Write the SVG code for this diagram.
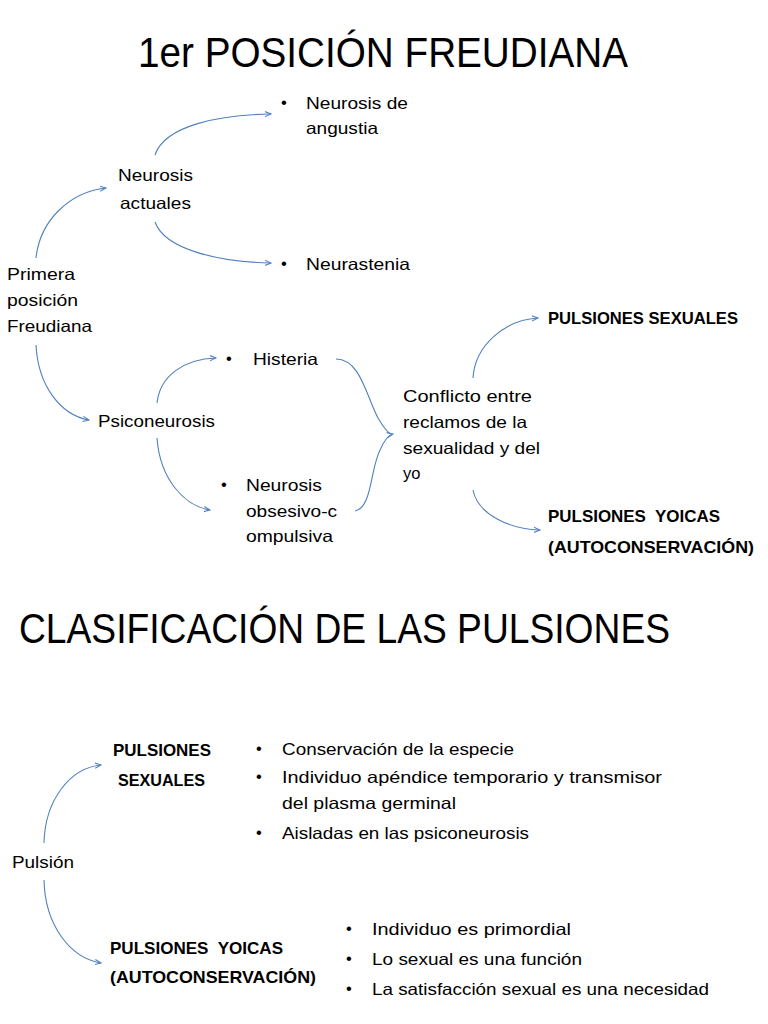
<svg xmlns="http://www.w3.org/2000/svg" width="768" height="1024" viewBox="0 0 768 1024">
<style>
text{font-family:"Liberation Sans",Arial,sans-serif;fill:#000;}
.t{font-size:16.5px;}
.b{font-size:17px;font-weight:bold;white-space:pre;}
.h{font-size:42px;}
.c{fill:none;stroke:#4f81bd;stroke-width:1.1;}
</style>
<defs>
<marker id="ah" viewBox="0 0 8 8" refX="7" refY="4" markerWidth="7" markerHeight="7" orient="auto" markerUnits="userSpaceOnUse">
<path d="M0,1 L7,4 L0,7" fill="none" stroke="#4f81bd" stroke-width="1.2"/>
</marker>
</defs>
<rect width="768" height="1024" fill="#fff"/>
<text class="h" x="138" y="67" textLength="490" lengthAdjust="spacingAndGlyphs">1er POSICIÓN FREUDIANA</text>
<text class="h" x="19" y="643" textLength="651" lengthAdjust="spacingAndGlyphs">CLASIFICACIÓN DE LAS PULSIONES</text>

<g id="connectors">
<path class="c" marker-end="url(#ah)" d="M36,258 C40,220 70,192 106,188"/>
<path class="c" marker-end="url(#ah)" d="M155,155 C165,125 220,115 271,114"/>
<path class="c" marker-end="url(#ah)" d="M155,222 C165,250 220,262 271,263"/>
<path class="c" marker-end="url(#ah)" d="M36,345 C38,385 60,415 89,420"/>
<path class="c" marker-end="url(#ah)" d="M157,403 C160,375 185,359 216,358"/>
<path class="c" marker-end="url(#ah)" d="M157,438 C160,480 185,506 210,510"/>
<path class="c" d="M336,359 C360,359 366,395 378,418 C384,428 388,433 391,434"/>
<path class="c" marker-end="url(#ah)" d="M355,511 C372,508 370,470 380,450 C384,441 388,435 393,434"/>
<path class="c" marker-end="url(#ah)" d="M473,378 C475,345 505,320 538,318"/>
<path class="c" marker-end="url(#ah)" d="M473,490 C478,515 510,529 540,530"/>
<path class="c" marker-end="url(#ah)" d="M44,843 C45,800 70,768 101,765"/>
<path class="c" marker-end="url(#ah)" d="M44,880 C45,925 70,958 101,963"/>
</g>

<g id="primera">
<text class="t" x="7" y="280" textLength="68" lengthAdjust="spacingAndGlyphs">Primera</text>
<text class="t" x="7" y="306" textLength="71" lengthAdjust="spacingAndGlyphs">posición</text>
<text class="t" x="7" y="332" textLength="85" lengthAdjust="spacingAndGlyphs">Freudiana</text>
</g>
<g id="neurosis-actuales">
<text class="t" x="118" y="181" textLength="75" lengthAdjust="spacingAndGlyphs">Neurosis</text>
<text class="t" x="120" y="209" textLength="71" lengthAdjust="spacingAndGlyphs">actuales</text>
</g>
<g id="neurosis-angustia">
<text class="t" x="281" y="108">•</text>
<text class="t" x="306" y="109" textLength="102" lengthAdjust="spacingAndGlyphs">Neurosis de</text>
<text class="t" x="306" y="134" textLength="72" lengthAdjust="spacingAndGlyphs">angustia</text>
</g>
<g id="neurastenia">
<text class="t" x="281" y="269">•</text>
<text class="t" x="306" y="270" textLength="104" lengthAdjust="spacingAndGlyphs">Neurastenia</text>
</g>
<g id="psiconeurosis">
<text class="t" x="98" y="427" textLength="117" lengthAdjust="spacingAndGlyphs">Psiconeurosis</text>
</g>
<g id="histeria">
<text class="t" x="226" y="364">•</text>
<text class="t" x="253" y="365" textLength="65" lengthAdjust="spacingAndGlyphs">Histeria</text>
</g>
<g id="obsesiva">
<text class="t" x="221" y="490">•</text>
<text class="t" x="246" y="491" textLength="76" lengthAdjust="spacingAndGlyphs">Neurosis</text>
<text class="t" x="246" y="517" textLength="91" lengthAdjust="spacingAndGlyphs">obsesivo-c</text>
<text class="t" x="246" y="542" textLength="87" lengthAdjust="spacingAndGlyphs">ompulsiva</text>
</g>
<g id="conflicto">
<text class="t" x="403" y="402" textLength="129" lengthAdjust="spacingAndGlyphs">Conflicto entre</text>
<text class="t" x="403" y="428" textLength="124" lengthAdjust="spacingAndGlyphs">reclamos de la</text>
<text class="t" x="403" y="454" textLength="137" lengthAdjust="spacingAndGlyphs">sexualidad y del</text>
<text class="t" x="403" y="479">yo</text>
</g>
<g id="pulsiones-sexuales-1">
<text class="b" x="548" y="324" textLength="190" lengthAdjust="spacingAndGlyphs">PULSIONES SEXUALES</text>
</g>
<g id="pulsiones-yoicas-1">
<text class="b" x="548" y="522" textLength="172" lengthAdjust="spacingAndGlyphs">PULSIONES  YOICAS</text>
<text class="b" x="548" y="553" textLength="206" lengthAdjust="spacingAndGlyphs">(AUTOCONSERVACIÓN)</text>
</g>

<g id="pulsion">
<text class="t" x="12" y="868" textLength="62" lengthAdjust="spacingAndGlyphs">Pulsión</text>
</g>
<g id="pulsiones-sexuales-2">
<text class="b" x="113" y="756" textLength="98" lengthAdjust="spacingAndGlyphs">PULSIONES</text>
<text class="b" x="118" y="786" textLength="87" lengthAdjust="spacingAndGlyphs">SEXUALES</text>
</g>
<g id="sexuales-lista">
<text class="t" x="256" y="754">•</text>
<text class="t" x="282" y="755" textLength="232" lengthAdjust="spacingAndGlyphs">Conservación de la especie</text>
<text class="t" x="256" y="782">•</text>
<text class="t" x="282" y="783" textLength="380" lengthAdjust="spacingAndGlyphs">Individuo apéndice temporario y transmisor</text>
<text class="t" x="282" y="809" textLength="174" lengthAdjust="spacingAndGlyphs">del plasma germinal</text>
<text class="t" x="256" y="838">•</text>
<text class="t" x="282" y="839" textLength="247" lengthAdjust="spacingAndGlyphs">Aisladas en las psiconeurosis</text>
</g>
<g id="pulsiones-yoicas-2">
<text class="b" x="110" y="954" textLength="173" lengthAdjust="spacingAndGlyphs">PULSIONES  YOICAS</text>
<text class="b" x="110" y="983" textLength="206" lengthAdjust="spacingAndGlyphs">(AUTOCONSERVACIÓN)</text>
</g>
<g id="yoicas-lista">
<text class="t" x="346" y="934">•</text>
<text class="t" x="372" y="935" textLength="199" lengthAdjust="spacingAndGlyphs">Individuo es primordial</text>
<text class="t" x="346" y="964">•</text>
<text class="t" x="372" y="965" textLength="210" lengthAdjust="spacingAndGlyphs">Lo sexual es una función</text>
<text class="t" x="346" y="994">•</text>
<text class="t" x="372" y="995" textLength="337" lengthAdjust="spacingAndGlyphs">La satisfacción sexual es una necesidad</text>
</g>
</svg>
